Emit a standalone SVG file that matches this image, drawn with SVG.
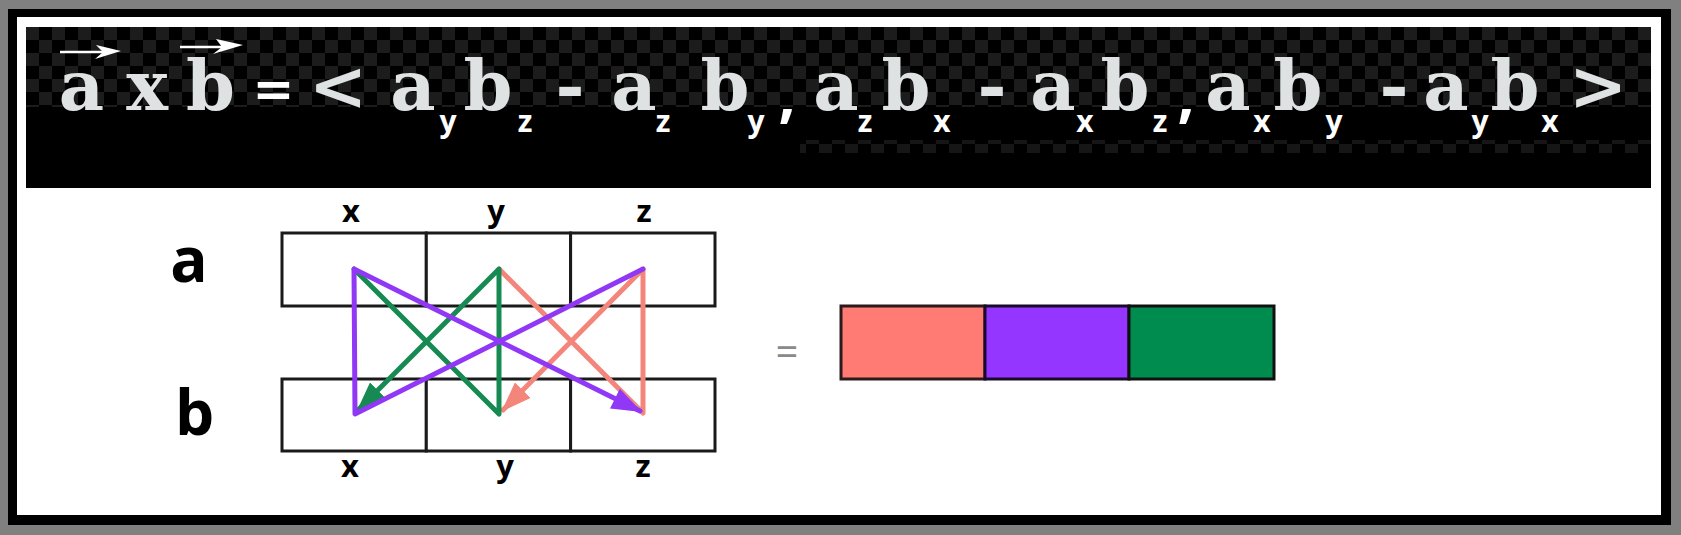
<svg xmlns="http://www.w3.org/2000/svg" width="1681" height="535" viewBox="0 0 1681 535">
  <style>
    .m { font-family: "DejaVu Serif", serif; font-weight: bold; font-size: 70px; fill: #dfe2e2; text-anchor: middle; }
    .s { font-family: "Open Sans", "DejaVu Sans", sans-serif; font-weight: bold; font-size: 30px; fill: #ffffff; text-anchor: middle; }
    .cm { font-family: "Open Sans", "DejaVu Sans", sans-serif; font-weight: bold; font-size: 60px; fill: #ffffff; text-anchor: middle; }
    .L { font-family: "Open Sans", "DejaVu Sans", sans-serif; font-weight: bold; font-size: 62px; fill: #000000; text-anchor: middle; }
    .c { font-family: "Open Sans", "DejaVu Sans", sans-serif; font-weight: bold; font-size: 31px; fill: #000000; text-anchor: middle; }
    .cell { fill: #ffffff; stroke: #1a1a1a; stroke-width: 3; }
    .ln { fill: none; stroke-width: 5; stroke-linejoin: round; stroke-linecap: round; }
  </style>
  <defs>
    <pattern id="chk" x="0" y="27" width="26" height="26" patternUnits="userSpaceOnUse">
      <rect x="0" y="0" width="13" height="13" fill="#1c1c1c"/>
      <rect x="13" y="13" width="13" height="13" fill="#1c1c1c"/>
    </pattern>
    <marker id="hP" viewBox="0 0 30 22" refX="28" refY="11" markerWidth="30" markerHeight="22" markerUnits="userSpaceOnUse" orient="auto">
      <path d="M0,0 L30,11 L0,22 z" fill="#9038f5"/>
    </marker>
    <marker id="hG" viewBox="0 0 30 22" refX="28" refY="11" markerWidth="30" markerHeight="22" markerUnits="userSpaceOnUse" orient="auto">
      <path d="M0,0 L30,11 L0,22 z" fill="#168a52"/>
    </marker>
    <marker id="hR" viewBox="0 0 30 22" refX="28" refY="11" markerWidth="30" markerHeight="22" markerUnits="userSpaceOnUse" orient="auto">
      <path d="M0,0 L30,11 L0,22 z" fill="#f4857b"/>
    </marker>
  </defs>

  <!-- frame -->
  <rect x="0" y="0" width="1681" height="535" fill="#808080"/>
  <rect x="8" y="9" width="1663" height="516" fill="#000000"/>
  <rect x="17" y="17" width="1644" height="498" fill="#ffffff"/>

  <!-- banner -->
  <g id="banner">
    <rect x="26" y="27" width="1625" height="161" fill="#000000"/>
    <rect x="26" y="27" width="1625" height="80" fill="url(#chk)"/>
    <rect x="800" y="140" width="851" height="13" fill="url(#chk)" opacity="0.8"/>

    <line x1="60" y1="52" x2="104" y2="52" stroke="#ffffff" stroke-width="2.5"/>
    <polygon points="121,51 96,45 103,52 95,59" fill="#ffffff"/>
    <line x1="180" y1="47" x2="225" y2="47" stroke="#ffffff" stroke-width="2.5"/>
    <polygon points="243,45 216,39 222,47 213,54" fill="#ffffff"/>

    <text class="m" x="81.5" y="110">a</text>
    <text class="m" x="147" y="110">x</text>
    <text class="m" x="210.5" y="110">b</text>
    <text class="m" x="273.5" y="106" style="fill:#ffffff;font-size:50px">=</text>
    <text class="m" x="338" y="110">&lt;</text>

    <text class="m" x="413" y="110">a</text>
    <text class="s" x="448" y="132">y</text>
    <text class="m" x="488" y="110">b</text>
    <text class="s" x="525" y="132">z</text>
    <text class="m" x="570" y="110">-</text>
    <text class="m" x="634" y="110">a</text>
    <text class="s" x="663" y="132">z</text>
    <text class="m" x="725" y="110">b</text>
    <text class="s" x="756" y="132">y</text>
    <text class="cm" x="787" y="116">,</text>

    <text class="m" x="836" y="110">a</text>
    <text class="s" x="865" y="132">z</text>
    <text class="m" x="906" y="110">b</text>
    <text class="s" x="942" y="132">x</text>
    <text class="m" x="992" y="110">-</text>
    <text class="m" x="1053" y="110">a</text>
    <text class="s" x="1085" y="132">x</text>
    <text class="m" x="1125" y="110">b</text>
    <text class="s" x="1160" y="132">z</text>
    <text class="cm" x="1186" y="116">,</text>

    <text class="m" x="1228" y="110">a</text>
    <text class="s" x="1262" y="132">x</text>
    <text class="m" x="1298" y="110">b</text>
    <text class="s" x="1334" y="132">y</text>
    <text class="m" x="1394" y="110">-</text>
    <text class="m" x="1446" y="110">a</text>
    <text class="s" x="1480" y="132">y</text>
    <text class="m" x="1515" y="110">b</text>
    <text class="s" x="1550" y="132">x</text>
    <text class="m" x="1598" y="110">&gt;</text>
  </g>

  <!-- row labels -->
  <g id="label-a"><text class="L" x="189" y="282">a</text></g>
  <g id="label-b"><text class="L" x="194.5" y="435">b</text></g>

  <!-- vector a -->
  <g id="vector-a">
    <rect class="cell" x="282" y="233" width="144.3" height="73"/>
    <rect class="cell" x="426.3" y="233" width="144.3" height="73"/>
    <rect class="cell" x="570.6" y="233" width="144.4" height="73"/>
    <text class="c" x="351" y="222">x</text>
    <text class="c" x="496" y="222">y</text>
    <text class="c" x="644" y="222">z</text>
  </g>

  <!-- vector b -->
  <g id="vector-b">
    <rect class="cell" x="282" y="379" width="144.3" height="72"/>
    <rect class="cell" x="426.3" y="379" width="144.3" height="72"/>
    <rect class="cell" x="570.6" y="379" width="144.4" height="72"/>
    <text class="c" x="350" y="477">x</text>
    <text class="c" x="505" y="477">y</text>
    <text class="c" x="643" y="477">z</text>
  </g>

  <!-- connectors -->
  <g id="connectors">
    <polyline class="ln" stroke="#f4857b" points="499,269 643,413 643,269 503,410" marker-end="url(#hR)"/>
    <polyline class="ln" stroke="#168a52" points="354,269 499,414 499,269 358,410" marker-end="url(#hG)"/>
    <polyline class="ln" stroke="#9038f5" points="643,269 355,414 354,269 640,411" marker-end="url(#hP)"/>
  </g>

  <!-- equals sign -->
  <g id="equals"><text x="787" y="366" style="font-family:'Open Sans','DejaVu Sans',sans-serif;font-size:40px;fill:#8a8a8a;text-anchor:middle">=</text></g>

  <!-- result vector -->
  <g id="result">
    <rect x="841" y="306" width="144" height="73" fill="#ff7b73" stroke="#2a1a1a" stroke-width="3"/>
    <rect x="985" y="306" width="144" height="73" fill="#9436ff" stroke="#1a0a2a" stroke-width="3"/>
    <rect x="1129" y="306" width="145" height="73" fill="#008c4e" stroke="#101010" stroke-width="3"/>
  </g>
</svg>
